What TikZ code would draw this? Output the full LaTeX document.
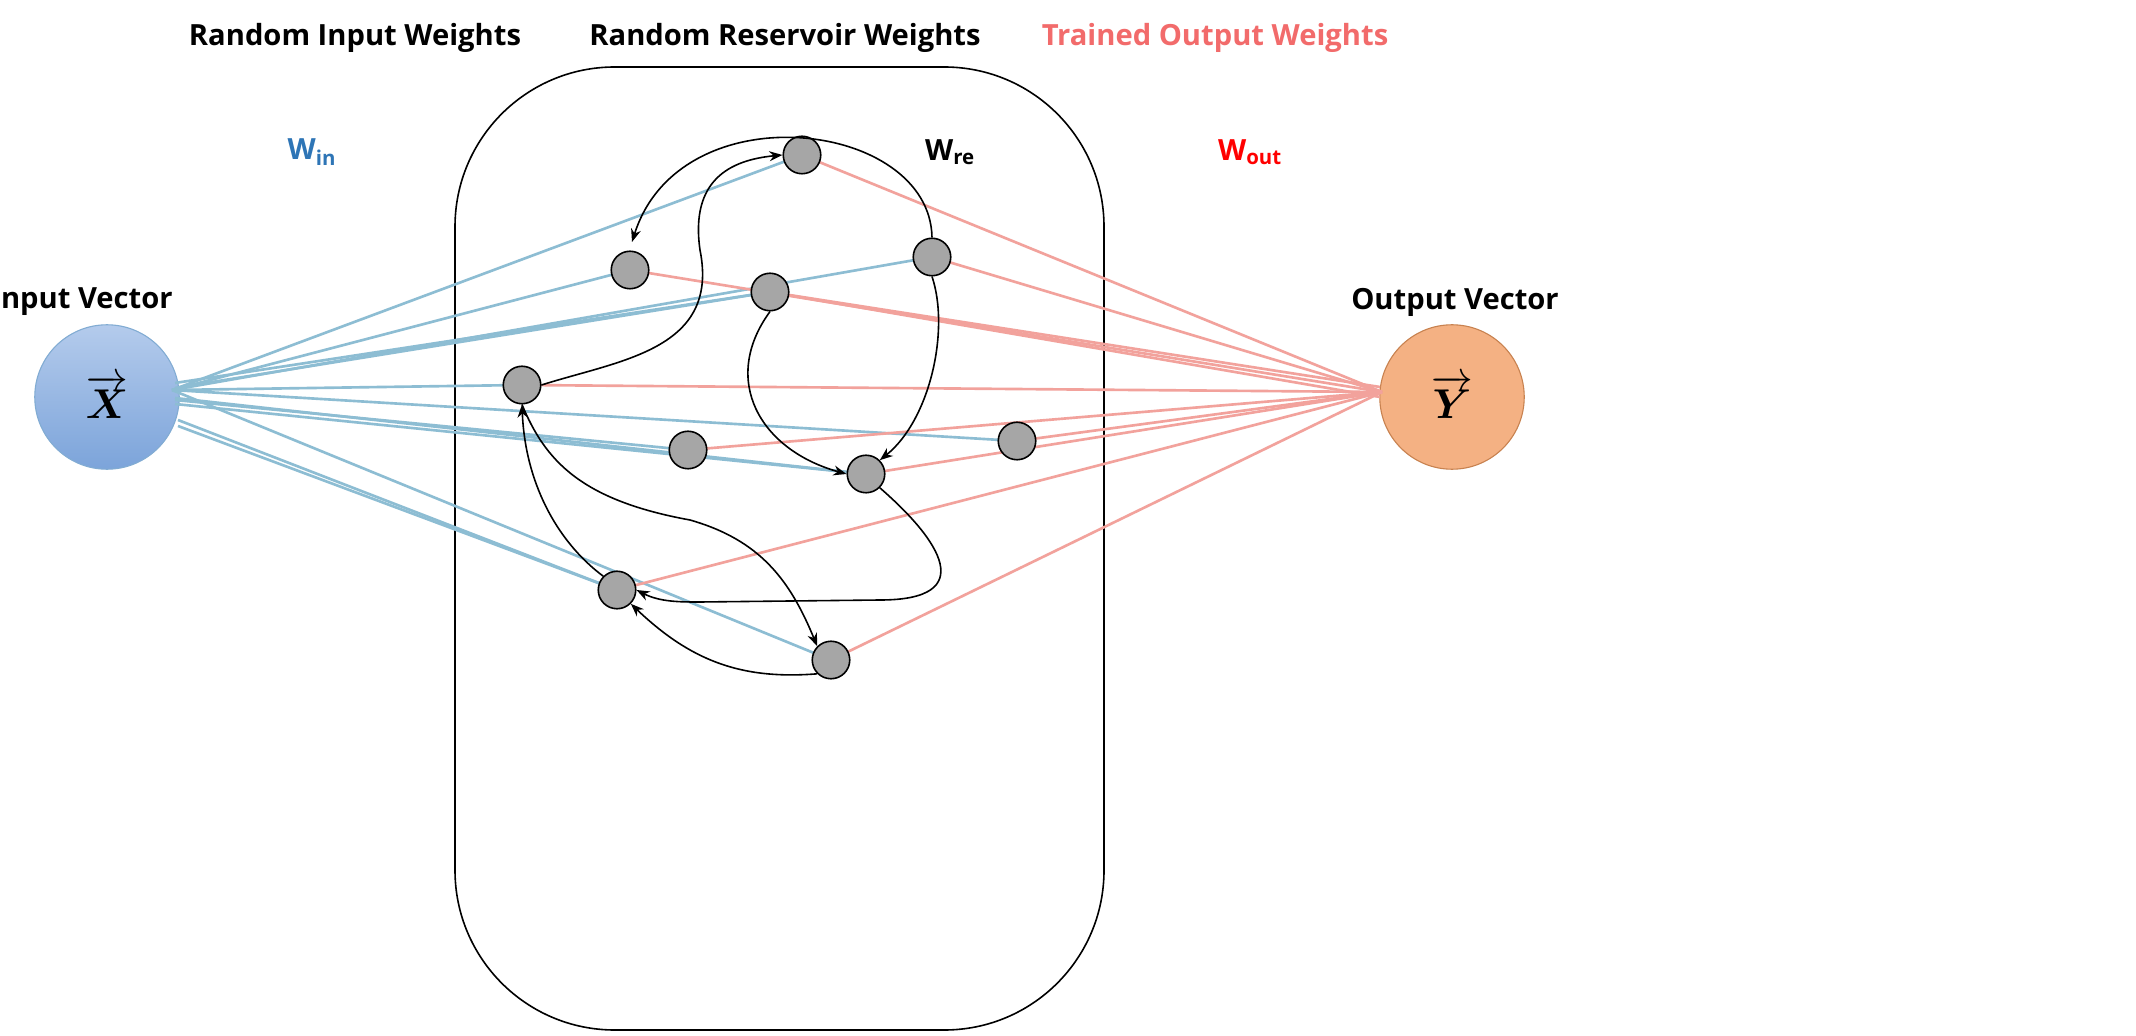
\documentclass[tikz,border=0pt]{standalone}
\usepackage{fontspec}
\setmainfont{Open Sans}
\usepackage{amsmath,bm}
\usetikzlibrary{arrows.meta}
\definecolor{bl}{HTML}{8DBDD3}
\definecolor{rd}{HTML}{F2A29C}
\definecolor{wblue}{HTML}{2E75B6}
\definecolor{wred}{HTML}{FF0000}
\definecolor{tred}{HTML}{F26B6B}
\definecolor{xtop}{HTML}{B4CBEC}
\definecolor{xbot}{HTML}{7CA4DA}
\definecolor{yfill}{HTML}{F4B183}
\definecolor{ydraw}{HTML}{C88250}
\begin{document}
\begin{tikzpicture}[x=0.72pt,y=-0.72pt,
 res/.style={circle,draw=black,line width=1.15pt,fill=black!35,minimum size=27pt,inner sep=0pt},
 bline/.style={bl,line width=1.9pt},
 rline/.style={rd,line width=1.9pt},
 arr/.style={-{Stealth[length=9.4pt,width=7.2pt]},line width=1.15pt},
 lab/.style={font=\fontsize{21}{25}\selectfont\bfseries}]
\path[use as bounding box,fill=white] (0,0) rectangle (2136,1036);
\draw[line width=1.15pt,rounded corners=115pt] (455,67) rectangle (1104,1030);
% io nodes
\node[circle,minimum size=104pt,draw=wblue!60,line width=0.8pt,top color=xtop,bottom color=xbot] (X) at (107,397) {\scalebox{3}{$\overrightarrow{\bm{X}}$}};
\node[circle,minimum size=104pt,draw=ydraw,line width=0.8pt,fill=yfill] (Y) at (1452,397) {\scalebox{3}{$\overrightarrow{\bm{Y}}$}};
% reservoir nodes coords
\coordinate (cA) at (802,155); \coordinate (cB) at (630,270);
\coordinate (cC) at (770,292); \coordinate (cD) at (932,257);
\coordinate (cE) at (522,385); \coordinate (cF) at (688,450);
\coordinate (cG) at (1017,441); \coordinate (cH) at (866,474);
\coordinate (cI) at (617,590); \coordinate (cJ) at (831,660);
\coordinate (Xr) at (172,390);
% blue lines
\foreach \t in {cA,cB,cD,cE,cG,cJ} \draw[bline] (Xr) -- (\t);
\draw[bline] (175,383) -- (cC); \draw[bline] (175,388) -- (cC);
\draw[bline] (175,400) -- (cF); \draw[bline] (175,404) -- (cH);
\draw[bline] (175,398) -- (cH);
\draw[bline] (178,420) -- (cI); \draw[bline] (178,426) -- (cI);
% red lines
\coordinate (Yl) at (1382,392);
\foreach \t in {cA,cB,cD,cE,cF,cG,cH,cI,cJ} \draw[rline] (Yl) -- (\t);
\draw[rline] (1380,387) -- (cC); \draw[rline] (1380,397) -- (cC);
% nodes
\foreach \n in {A,B,C,D,E,F,G,H,I,J} \node[res] (\n) at (c\n) {};
% curved arrows
\draw[arr] (D.north) .. controls (930,120) and (680,90) .. (632,242);
\draw[arr] (E.east) .. controls (620,360) and (720,350) .. (700,250) .. controls (690,180) and (730,160) .. (A.west);
\draw[arr] (C.south) .. controls (720,380) and (760,450) .. (H.west);
\draw[arr] (D.south) .. controls (950,330) and (930,420) .. (H.north east);
\draw[arr] (H.south east) .. controls (940,540) and (980,600) .. (880,600) -- (700,602) .. controls (680,602) and (660,602) .. (I.east);
\draw[arr] (E.south) .. controls (545,460) and (580,500) .. (690,520) .. controls (760,540) and (790,580) .. (J.north west);
\draw[arr] (I.north west) .. controls (555,540) and (525,480) .. (E.south);
\draw[arr] (J.south west) .. controls (740,680) and (690,660) .. (I.south east);
% labels
\node[lab] at (355,38) {Random Input Weights};
\node[lab] at (785,38) {Random Reservoir Weights};
\node[lab,text=tred] at (1215,38) {Trained Output Weights};
\node[lab] at (82,302) {Input Vector};
\node[lab] at (1455,302) {Output Vector};
\node[lab,text=wblue] at (312,152) {W\textsubscript{in}};
\node[lab] at (950,152) {W\textsubscript{re}};
\node[lab,text=wred] at (1250,152) {W\textsubscript{out}};
\end{tikzpicture}
\end{document}
